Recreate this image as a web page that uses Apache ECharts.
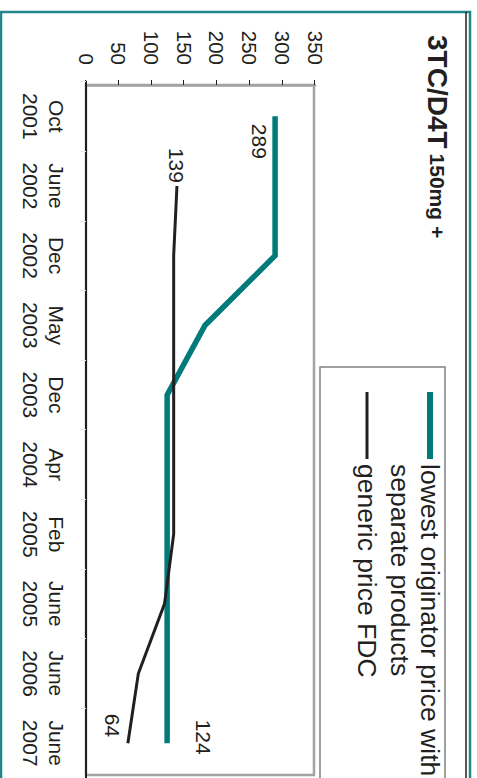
<!DOCTYPE html>
<html>
<head>
<meta charset="utf-8">
<script src="https://cdn.jsdelivr.net/npm/echarts@6/dist/echarts.min.js"></script>
<style>
  html, body { margin: 0; padding: 0; background: #ffffff; overflow: hidden; width: 477px; height: 778px; }
  #wrap { position: absolute; left: 0; top: 0; width: 778px; height: 477px;
          transform-origin: 0 0; transform: translate(477px, 0) rotate(90deg); }
  #chart { width: 778px; height: 477px; }
</style>
</head>
<body>
<div id="wrap"><div id="chart"></div></div>
<script>
// ---- data ----
const categories = ['Oct\n2001', 'June\n2002', 'Dec\n2002', 'May\n2003', 'Dec\n2003',
                    'Apr\n2004', 'Feb\n2005', 'June\n2005', 'June\n2006', 'June\n2007'];
const originatorPrice = [289, 289, 289, 182, 124, 124, 124, 124, 124, 124];
const genericPrice = [null, 139, 134, 134, 134, 134, 134, 120, 80, 64];
const seriesNames = ['lowest originator price with separate products', 'generic price FDC'];
const legendLabels = ['lowest originator price with\nseparate products', 'generic price FDC'];
const valueMin = 0, valueMax = 350, valueStep = 50;
const titleMain = '3TC/D4T';
const titleSub = '150mg +';

// ---- styles ----
const FONT = 'Liberation Sans, Arial, Helvetica, sans-serif';
const INK = '#231f20';
const TEAL = '#007a7a';

const labelBase = { show: true, color: INK, fontSize: 21, lineHeight: 21, fontFamily: FONT };

const originatorData = originatorPrice.map((v, i) => {
  if (i === 0) return { value: v, label: Object.assign({}, labelBase, { position: 'bottom', distance: 5.5, offset: [25, 0] }) };
  if (i === originatorPrice.length - 1) return { value: v, label: Object.assign({}, labelBase, { position: 'top', distance: 26, offset: [-6, 0] }) };
  return v;
});
const firstGeneric = genericPrice.findIndex(v => v != null);
const genericData = genericPrice.map((v, i) => {
  if (i === firstGeneric) return { value: v, label: Object.assign({}, labelBase, { position: 'left', distance: 3 }) };
  if (i === genericPrice.length - 1) return { value: v, label: Object.assign({}, labelBase, { position: 'left', distance: 6, offset: [0, 15] }) };
  return v;
});

// multi-line legend labels: pad with leading blank lines so the first line sits on the legend line
function legendText(name) {
  const txt = legendLabels[seriesNames.indexOf(name)];
  const extra = txt.split('\n').length - 1;
  return '\n'.repeat(extra) + txt;
}

const chart = echarts.init(document.getElementById('chart'), null, { renderer: 'svg', width: 778, height: 477 });

chart.setOption({
  backgroundColor: '#ffffff',
  animation: false,
  textStyle: { fontFamily: FONT },
  title: {
    text: '{a|' + titleMain + '} {b|' + titleSub + '}',
    left: 30,
    top: 20,
    textStyle: {
      rich: {
        a: { fontSize: 28, fontWeight: 'bold', color: INK, fontFamily: FONT, lineHeight: 30 },
        b: { fontSize: 21, fontWeight: 'bold', color: INK, fontFamily: FONT, lineHeight: 30 }
      }
    }
  },
  legend: {
    orient: 'vertical',
    left: 389,
    top: 2,
    padding: 0,
    itemGap: 3,
    itemWidth: 67,
    itemHeight: 14,
    formatter: legendText,
    textStyle: { fontSize: 26.5, lineHeight: 30, color: INK, fontFamily: FONT },
    data: [
      { name: seriesNames[0], itemStyle: { opacity: 0 }, lineStyle: { width: 6, color: TEAL } },
      { name: seriesNames[1], itemStyle: { opacity: 0 }, lineStyle: { width: 3, color: INK } }
    ]
  },
  grid: { left: 81.5, width: 700, top: 162, height: 229, containLabel: false },
  xAxis: {
    type: 'category',
    data: categories,
    boundaryGap: true,
    axisLine: { show: true, lineStyle: { color: INK, width: 2 } },
    axisTick: { show: true, length: 6, lineStyle: { color: '#ececec', width: 1 } },
    axisLabel: { interval: 0, fontSize: 21, lineHeight: 26, color: INK, margin: 17, fontFamily: FONT },
    splitLine: { show: false }
  },
  yAxis: {
    type: 'value',
    min: valueMin,
    max: valueMax,
    interval: valueStep,
    offset: -3.5,
    axisLine: { show: true, lineStyle: { color: '#a3a3a3', width: 2.5 } },
    axisTick: { show: true, inside: false, length: 5, lineStyle: { color: INK, width: 1 } },
    axisLabel: { fontSize: 20.5, color: INK, margin: 20, fontFamily: FONT },
    splitLine: { show: false }
  },
  series: [
    {
      name: seriesNames[0],
      type: 'line',
      data: originatorData,
      symbol: 'circle',
      symbolSize: 0.001,
      showSymbol: true,
      showAllSymbol: true,
      lineStyle: { color: TEAL, width: 5.5, join: 'miter' },
      itemStyle: { color: TEAL },
      label: { show: false },
      emphasis: { disabled: true },
      z: 2
    },
    {
      name: seriesNames[1],
      type: 'line',
      data: genericData,
      symbol: 'circle',
      symbolSize: 0.001,
      showSymbol: true,
      showAllSymbol: true,
      connectNulls: false,
      lineStyle: { color: INK, width: 3, join: 'miter' },
      itemStyle: { color: INK },
      label: { show: false },
      emphasis: { disabled: true },
      z: 3
    }
  ],
  graphic: [
    // outer teal frame and inner rule
    { type: 'rect', silent: true, z: -10, shape: { x: 12, y: 7, width: 800, height: 469 },
      style: { fill: 'none', stroke: '#23868a', lineWidth: 2.5 } },
    { type: 'line', silent: true, z: -10, shape: { x1: 12, y1: 11, x2: 800, y2: 11 },
      style: { stroke: INK, lineWidth: 1.5 } },
    // plot area frame
    { type: 'rect', silent: true, z: -5, shape: { x: 85, y: 163, width: 690, height: 228 },
      style: { fill: 'none', stroke: '#a3a3a3', lineWidth: 2.5 } },
    // legend box
    { type: 'rect', silent: true, z: -5, shape: { x: 367, y: 32, width: 440, height: 125 },
      style: { fill: 'none', stroke: '#808080', lineWidth: 1.5 } }
  ]
});
</script>
</body>
</html>
